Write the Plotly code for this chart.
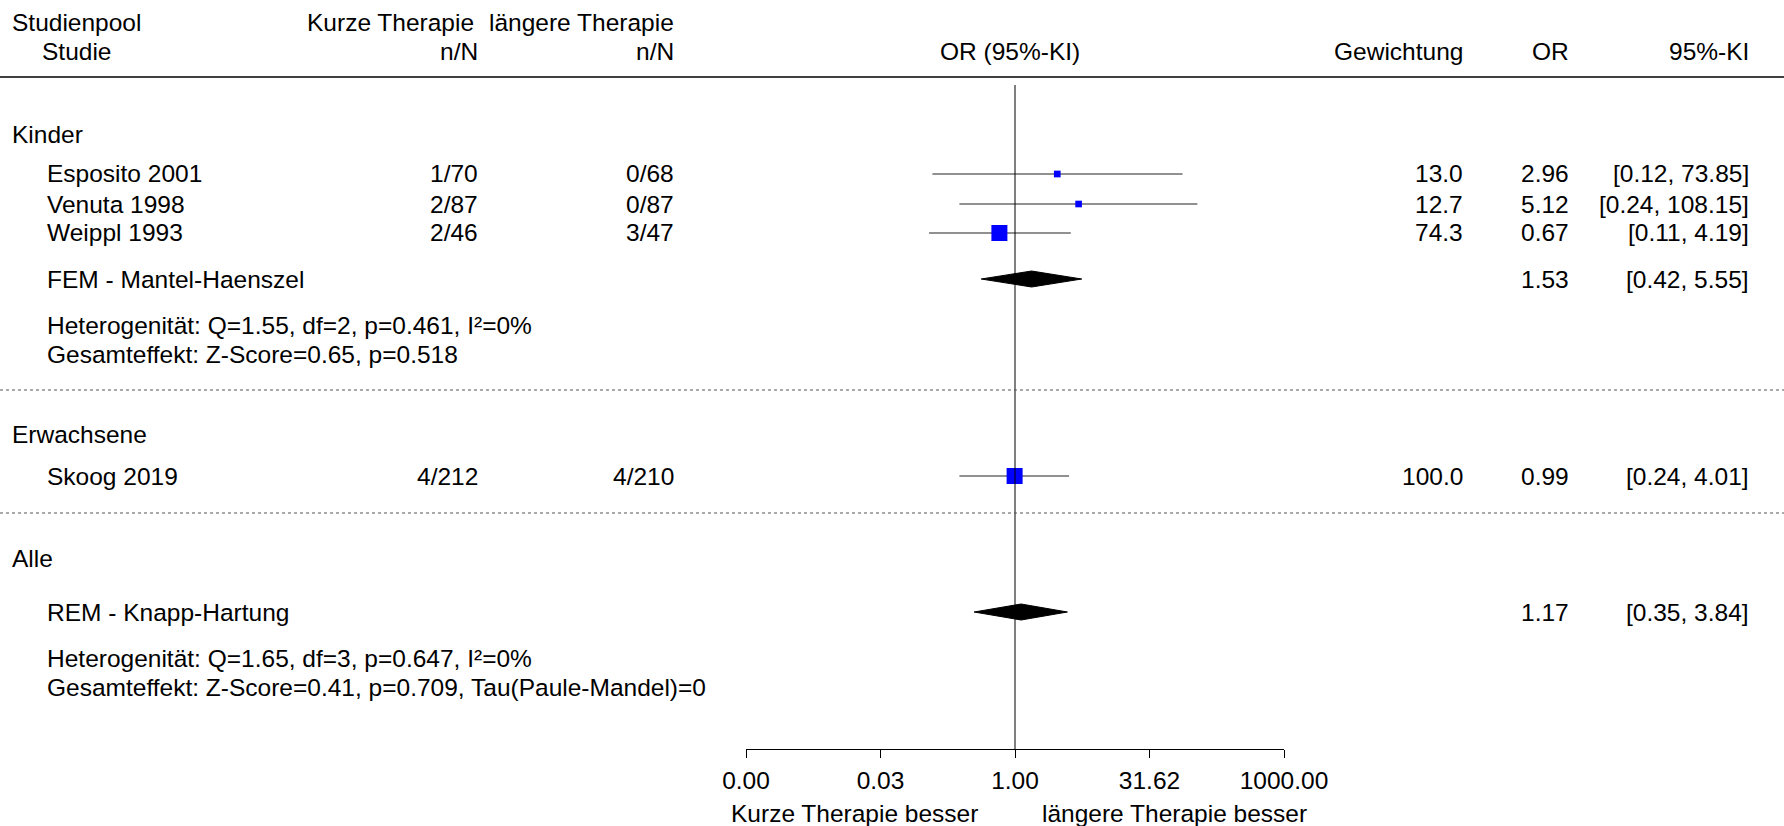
import math
import plotly.graph_objects as go

W, H = 1784, 826
FONT = "Arial, 'Liberation Sans', Helvetica, sans-serif"
FS = 24.5

# ---------------- data ----------------
groups = ["Kinder", "Erwachsene", "Alle"]

studies = ["Esposito 2001", "Venuta 1998", "Weippl 1993", "Skoog 2019"]
study_group = [0, 0, 0, 1]
short_nN = ["1/70", "2/87", "2/46", "4/212"]
long_nN = ["0/68", "0/87", "3/47", "4/210"]
weights = [13.0, 12.7, 74.3, 100.0]
or_est = [2.96, 5.12, 0.67, 0.99]
ci_lo = [0.12, 0.24, 0.11, 0.24]
ci_hi = [73.85, 108.15, 4.19, 4.01]

pooled_labels = ["FEM - Mantel-Haenszel", "REM - Knapp-Hartung"]
pooled_or = [1.53, 1.17]
pooled_lo = [0.42, 0.35]
pooled_hi = [5.55, 3.84]

stats_lines = [
    "Heterogenität: Q=1.55, df=2, p=0.461, I²=0%",
    "Gesamteffekt: Z-Score=0.65, p=0.518",
    "Heterogenität: Q=1.65, df=3, p=0.647, I²=0%",
    "Gesamteffekt: Z-Score=0.41, p=0.709, Tau(Paule-Mandel)=0",
]

tick_vals = [0.001, 0.0316, 1, 31.62, 1000]
tick_text = ["0.00", "0.03", "1.00", "31.62", "1000.00"]

# ---------------- layout positions (pixels) ----------------
AX_Y = 749
group_rows = [134, 435, 558]
study_rows = [174, 204, 233, 476]
pooled_rows = [279, 612]
stats_rows = [325, 355, 658, 687]
dotted_rows = [390, 513]

X_GROUP = 10
X_STUDY = 45
X_SHORT = 480
X_LONG = 676
X_OR_HDR = 1010
X_W = 1465
X_OR = 1571
X_CI = 1751


def px(x):
    return x / W


def py(y):
    return 1 - y / H


fig = go.Figure()

# CI lines
for i in range(len(studies)):
    fig.add_trace(go.Scatter(
        x=[ci_lo[i], ci_hi[i]], y=[study_rows[i], study_rows[i]],
        mode="lines", line=dict(color="#222222", width=1),
        hoverinfo="skip", showlegend=False))

# squares, size relative to the largest weight in the subgroup
sizes = []
for i in range(len(studies)):
    gmax = max(w for w, g in zip(weights, study_group) if g == study_group[i])
    sizes.append(16 * math.sqrt(weights[i] / gmax))
fig.add_trace(go.Scatter(
    x=or_est, y=study_rows, mode="markers",
    marker=dict(symbol="square", color="#0000FF", size=sizes, opacity=1,
                line=dict(width=0)),
    hoverinfo="skip", showlegend=False))

# diamonds
DH = 8
for i in range(len(pooled_labels)):
    r = pooled_rows[i]
    fig.add_trace(go.Scatter(
        x=[pooled_lo[i], pooled_or[i], pooled_hi[i], pooled_or[i], pooled_lo[i]],
        y=[r, r - DH, r, r + DH, r],
        mode="lines", fill="toself", fillcolor="black",
        line=dict(color="black", width=1),
        hoverinfo="skip", showlegend=False))

shapes = [
    dict(type="line", xref="x", yref="y", x0=1, x1=1, y0=85, y1=AX_Y,
         line=dict(color="black", width=1)),
    dict(type="line", xref="paper", yref="y", x0=0, x1=1, y0=77, y1=77,
         line=dict(color="black", width=1.5)),
]
for r in dotted_rows:
    shapes.append(dict(type="line", xref="paper", yref="y", x0=0, x1=1, y0=r, y1=r,
                       line=dict(color="#555555", width=1, dash="dot")))

ann = []


def txt(x, y, s, anchor="left"):
    ann.append(dict(x=px(x), y=py(y), xref="paper", yref="paper", text=s,
                    showarrow=False, xanchor=anchor, yanchor="middle",
                    font=dict(family=FONT, size=FS, color="black")))


# headers
txt(X_GROUP, 23, "Studienpool")
txt(40, 52, "Studie")
txt(X_SHORT - 4, 23, "Kurze Therapie", "right")
txt(X_SHORT, 52, "n/N", "right")
txt(X_LONG, 23, "längere Therapie", "right")
txt(X_LONG, 52, "n/N", "right")
txt(X_OR_HDR, 52, "OR (95%-KI)", "center")
txt(X_W, 52, "Gewichtung", "right")
txt(X_OR, 52, "OR", "right")
txt(X_CI, 52, "95%-KI", "right")

for g, r in zip(groups, group_rows):
    txt(X_GROUP, r, g)

for i in range(len(studies)):
    r = study_rows[i]
    txt(X_STUDY, r, studies[i])
    txt(X_SHORT, r, short_nN[i], "right")
    txt(X_LONG, r, long_nN[i], "right")
    txt(X_W, r, f"{weights[i]:.1f}", "right")
    txt(X_OR, r, f"{or_est[i]:.2f}", "right")
    txt(X_CI, r, f"[{ci_lo[i]:.2f}, {ci_hi[i]:.2f}]", "right")

for i in range(len(pooled_labels)):
    r = pooled_rows[i]
    txt(X_STUDY, r, pooled_labels[i])
    txt(X_OR, r, f"{pooled_or[i]:.2f}", "right")
    txt(X_CI, r, f"[{pooled_lo[i]:.2f}, {pooled_hi[i]:.2f}]", "right")

for s, r in zip(stats_lines, stats_rows):
    txt(X_STUDY, r, s)

txt(980, 813, "Kurze Therapie besser", "right")
txt(1040, 813, "längere Therapie besser", "left")

fig.update_layout(
    width=W, height=H, autosize=False,
    margin=dict(l=0, r=0, t=0, b=0, pad=0, autoexpand=False),
    paper_bgcolor="white", plot_bgcolor="white",
    showlegend=False,
    shapes=shapes, annotations=ann,
    font=dict(family=FONT, size=FS, color="black"),
    xaxis=dict(type="log", range=[-3, 3], domain=[746 / W, 1284 / W],
               showline=True, linecolor="black", linewidth=1,
               ticks="outside", ticklen=8, tickcolor="black", tickwidth=1,
               tickvals=tick_vals, ticktext=tick_text, ticklabelstandoff=2,
               tickfont=dict(family=FONT, size=FS, color="black"),
               showgrid=False, zeroline=False, fixedrange=True, automargin=False),
    yaxis=dict(range=[AX_Y, 0], domain=[(H - AX_Y) / H, 1], visible=False,
               showgrid=False, zeroline=False, fixedrange=True, automargin=False),
)

fig.write_html("out.html", config={"displayModeBar": False})
